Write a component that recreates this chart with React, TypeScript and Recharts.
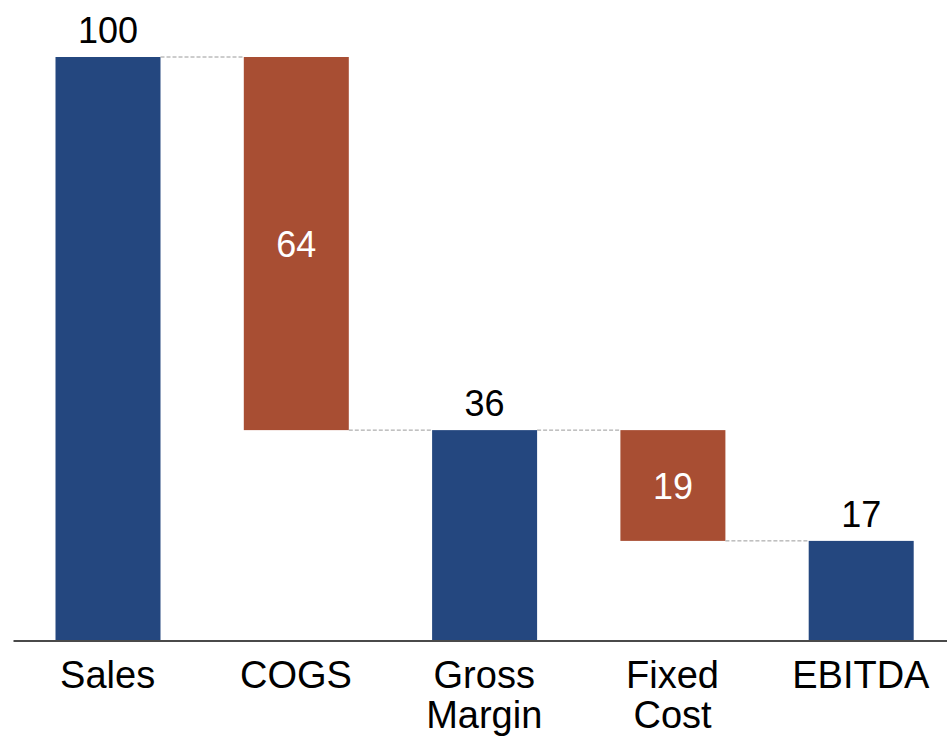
import { BarChart, Bar, XAxis, YAxis, LabelList } from 'recharts';

// Waterfall: totals start at zero, deltas float from the running total
const categories = ['Sales', 'COGS', 'Gross Margin', 'Fixed Cost', 'EBITDA'];
const amounts = [100, -64, 36, -19, 17];
const isTotal = [true, false, true, false, true];

const BLUE = '#24477f';
const RUST = '#a84e33';
const FONT = '"Liberation Sans", Arial, Helvetica, sans-serif';

const CHART_W = 960;
const CHART_H = 737;
const MARGIN = { top: 57, right: 5, bottom: 7, left: 13.5 };
const BAR_W = 105;
const STEP = (CHART_W - MARGIN.left - MARGIN.right) / categories.length;

interface Row {
  name: string;
  base: number;
  size: number;
  amount: number;
  total: boolean;
  connectAt: 'top' | 'bottom';
}

function buildRows(): Row[] {
  let running = 0;
  return categories.map((name, i) => {
    const amount = amounts[i];
    if (isTotal[i]) {
      running = amount;
      return { name, base: 0, size: amount, amount, total: true, connectAt: 'top' };
    }
    const end = running + amount;
    const row: Row = {
      name,
      base: Math.min(running, end),
      size: Math.abs(amount),
      amount,
      total: false,
      connectAt: amount < 0 ? 'bottom' : 'top',
    };
    running = end;
    return row;
  });
}

const rows = buildRows();

// bar plus the dashed connector running to the next bar's left edge
function StepBar(props: any) {
  const { x, y, width, height, index, payload } = props;
  const last = index === rows.length - 1;
  const level = payload.connectAt === 'top' ? y : y + height;
  return (
    <g>
      <rect x={x} y={y} width={width} height={height} fill={payload.total ? BLUE : RUST} />
      {!last && (
        <line x1={x + width} x2={x + STEP} y1={level} y2={level}
          stroke="#9a9a9a" strokeWidth={1} strokeDasharray="4 2" />
      )}
    </g>
  );
}

function ValueLabel(props: any) {
  const { x, y, width, height, index } = props;
  const row = rows[index];
  const cx = x + width / 2;
  if (row.total) {
    return (
      <text x={cx} y={y - 14} textAnchor="middle" fontSize={36} fontFamily={FONT} fill="#000">
        {Math.abs(row.amount)}
      </text>
    );
  }
  return (
    <text x={cx} y={y + height / 2 + 13} textAnchor="middle" fontSize={36} fontFamily={FONT} fill="#fff">
      {Math.abs(row.amount)}
    </text>
  );
}

// two-word categories wrap onto a second line
function CategoryTick(props: any) {
  const { x, y, payload } = props;
  const words = String(payload.value).split(' ');
  return (
    <text x={x} y={y} textAnchor="middle" fontSize={38} fontFamily={FONT} fill="#000">
      {words.map((w, i) => (
        <tspan key={w} x={x} y={y + 48 + i * 40}>{w}</tspan>
      ))}
    </text>
  );
}

export default function App() {
  return (
    <div style={{ position: 'fixed', left: 0, top: 0, width: 947, height: 737, overflow: 'hidden', background: '#fff' }}>
      <BarChart width={CHART_W} height={CHART_H} data={rows} margin={MARGIN} barSize={BAR_W}>
        <XAxis dataKey="name" interval={0} tickLine={false} tickSize={0} tickMargin={0} height={90}
          axisLine={{ stroke: '#4a4a4a', strokeWidth: 2, transform: 'translate(0,1)' }} tick={<CategoryTick />} />
        <YAxis hide domain={[0, 100]} />
        <Bar dataKey="base" stackId="w" fill="transparent" isAnimationActive={false} />
        <Bar dataKey="size" stackId="w" shape={<StepBar />} isAnimationActive={false}>
          <LabelList dataKey="size" content={<ValueLabel />} />
        </Bar>
      </BarChart>
    </div>
  );
}
